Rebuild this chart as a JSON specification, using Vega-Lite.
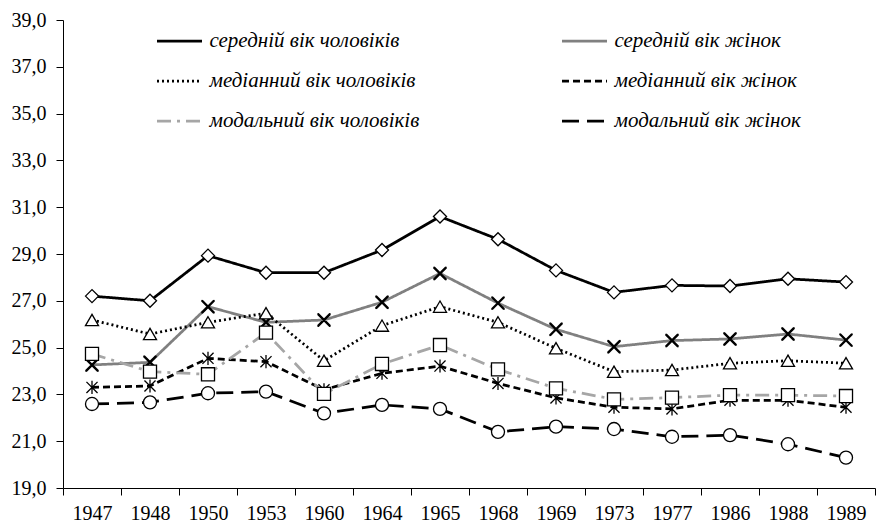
{
  "$schema": "https://vega.github.io/schema/vega-lite/v6.json",
  "width": 812,
  "height": 468,
  "autosize": {"type": "none"},
  "padding": {"left": 63, "top": 20, "right": 1, "bottom": 35},
  "background": "white",
  "config": {
    "view": {"stroke": null},
    "font": "Liberation Serif",
    "axis": {"labelFont": "Liberation Serif", "labelColor": "black", "domainColor": "black", "tickColor": "black", "grid": false, "title": null}
  },
  "data": {"values": [
    {"year": "1947", "series": "середній вік чоловіків", "value": 27.2},
    {"year": "1948", "series": "середній вік чоловіків", "value": 27.0},
    {"year": "1950", "series": "середній вік чоловіків", "value": 28.93},
    {"year": "1953", "series": "середній вік чоловіків", "value": 28.2},
    {"year": "1960", "series": "середній вік чоловіків", "value": 28.2},
    {"year": "1964", "series": "середній вік чоловіків", "value": 29.17},
    {"year": "1965", "series": "середній вік чоловіків", "value": 30.6},
    {"year": "1968", "series": "середній вік чоловіків", "value": 29.63},
    {"year": "1969", "series": "середній вік чоловіків", "value": 28.3},
    {"year": "1973", "series": "середній вік чоловіків", "value": 27.36},
    {"year": "1977", "series": "середній вік чоловіків", "value": 27.66},
    {"year": "1986", "series": "середній вік чоловіків", "value": 27.63},
    {"year": "1988", "series": "середній вік чоловіків", "value": 27.94},
    {"year": "1989", "series": "середній вік чоловіків", "value": 27.8},
    {"year": "1947", "series": "середній вік жінок", "value": 24.26},
    {"year": "1948", "series": "середній вік жінок", "value": 24.37},
    {"year": "1950", "series": "середній вік жінок", "value": 26.75},
    {"year": "1953", "series": "середній вік жінок", "value": 26.08},
    {"year": "1960", "series": "середній вік жінок", "value": 26.18},
    {"year": "1964", "series": "середній вік жінок", "value": 26.94},
    {"year": "1965", "series": "середній вік жінок", "value": 28.17},
    {"year": "1968", "series": "середній вік жінок", "value": 26.9},
    {"year": "1969", "series": "середній вік жінок", "value": 25.78},
    {"year": "1973", "series": "середній вік жінок", "value": 25.04},
    {"year": "1977", "series": "середній вік жінок", "value": 25.3},
    {"year": "1986", "series": "середній вік жінок", "value": 25.37},
    {"year": "1988", "series": "середній вік жінок", "value": 25.58},
    {"year": "1989", "series": "середній вік жінок", "value": 25.32},
    {"year": "1947", "series": "медіанний вік чоловіків", "value": 26.18},
    {"year": "1948", "series": "медіанний вік чоловіків", "value": 25.58},
    {"year": "1950", "series": "медіанний вік чоловіків", "value": 26.08},
    {"year": "1953", "series": "медіанний вік чоловіків", "value": 26.47},
    {"year": "1960", "series": "медіанний вік чоловіків", "value": 24.44},
    {"year": "1964", "series": "медіанний вік чоловіків", "value": 25.94},
    {"year": "1965", "series": "медіанний вік чоловіків", "value": 26.75},
    {"year": "1968", "series": "медіанний вік чоловіків", "value": 26.08},
    {"year": "1969", "series": "медіанний вік чоловіків", "value": 24.97},
    {"year": "1973", "series": "медіанний вік чоловіків", "value": 23.97},
    {"year": "1977", "series": "медіанний вік чоловіків", "value": 24.04},
    {"year": "1986", "series": "медіанний вік чоловіків", "value": 24.33},
    {"year": "1988", "series": "медіанний вік чоловіків", "value": 24.44},
    {"year": "1989", "series": "медіанний вік чоловіків", "value": 24.33},
    {"year": "1947", "series": "медіанний вік жінок", "value": 23.3},
    {"year": "1948", "series": "медіанний вік жінок", "value": 23.36},
    {"year": "1950", "series": "медіанний вік жінок", "value": 24.54},
    {"year": "1953", "series": "медіанний вік жінок", "value": 24.4},
    {"year": "1960", "series": "медіанний вік жінок", "value": 23.2},
    {"year": "1964", "series": "медіанний вік жінок", "value": 23.9},
    {"year": "1965", "series": "медіанний вік жінок", "value": 24.21},
    {"year": "1968", "series": "медіанний вік жінок", "value": 23.47},
    {"year": "1969", "series": "медіанний вік жінок", "value": 22.85},
    {"year": "1973", "series": "медіанний вік жінок", "value": 22.45},
    {"year": "1977", "series": "медіанний вік жінок", "value": 22.38},
    {"year": "1986", "series": "медіанний вік жінок", "value": 22.75},
    {"year": "1988", "series": "медіанний вік жінок", "value": 22.75},
    {"year": "1989", "series": "медіанний вік жінок", "value": 22.45},
    {"year": "1947", "series": "модальний вік чоловіків", "value": 24.73},
    {"year": "1948", "series": "модальний вік чоловіків", "value": 23.97},
    {"year": "1950", "series": "модальний вік чоловіків", "value": 23.86},
    {"year": "1953", "series": "модальний вік чоловіків", "value": 25.64},
    {"year": "1960", "series": "модальний вік чоловіків", "value": 23.02},
    {"year": "1964", "series": "модальний вік чоловіків", "value": 24.3},
    {"year": "1965", "series": "модальний вік чоловіків", "value": 25.11},
    {"year": "1968", "series": "модальний вік чоловіків", "value": 24.07},
    {"year": "1969", "series": "модальний вік чоловіків", "value": 23.26},
    {"year": "1973", "series": "модальний вік чоловіків", "value": 22.79},
    {"year": "1977", "series": "модальний вік чоловіків", "value": 22.86},
    {"year": "1986", "series": "модальний вік чоловіків", "value": 22.97},
    {"year": "1988", "series": "модальний вік чоловіків", "value": 22.97},
    {"year": "1989", "series": "модальний вік чоловіків", "value": 22.93},
    {"year": "1947", "series": "модальний вік жінок", "value": 22.59},
    {"year": "1948", "series": "модальний вік жінок", "value": 22.66},
    {"year": "1950", "series": "модальний вік жінок", "value": 23.05},
    {"year": "1953", "series": "модальний вік жінок", "value": 23.12},
    {"year": "1960", "series": "модальний вік жінок", "value": 22.19},
    {"year": "1964", "series": "модальний вік жінок", "value": 22.55},
    {"year": "1965", "series": "модальний вік жінок", "value": 22.38},
    {"year": "1968", "series": "модальний вік жінок", "value": 21.4},
    {"year": "1969", "series": "модальний вік жінок", "value": 21.62},
    {"year": "1973", "series": "модальний вік жінок", "value": 21.52},
    {"year": "1977", "series": "модальний вік жінок", "value": 21.19},
    {"year": "1986", "series": "модальний вік жінок", "value": 21.26},
    {"year": "1988", "series": "модальний вік жінок", "value": 20.87},
    {"year": "1989", "series": "модальний вік жінок", "value": 20.3}
  ]},
  "encoding": {
    "x": {
      "field": "year", "type": "ordinal", "sort": null,
      "scale": {"paddingInner": 0, "paddingOuter": 0},
      "axis": {"labelAngle": 0, "tickBand": "extent", "labelFontSize": 20, "tickSize": 7, "labelPadding": 8, "domainWidth": 1}
    },
    "y": {
      "field": "value", "type": "quantitative",
      "scale": {"domain": [19, 39], "nice": false, "zero": false},
      "axis": {"values": [19, 21, 23, 25, 27, 29, 31, 33, 35, 37, 39], "labelExpr": "replace(format(datum.value, '.1f'), '.', ',')", "labelFontSize": 20, "tickSize": 7, "labelPadding": 10}
    }
  },
  "layer": [
    {
      "mark": {"type": "line", "strokeWidth": 2.75},
      "encoding": {
        "stroke": {
          "field": "series", "type": "nominal",
          "scale": {
            "domain": ["середній вік чоловіків", "середній вік жінок", "медіанний вік чоловіків", "медіанний вік жінок", "модальний вік чоловіків", "модальний вік жінок"],
            "range": ["#000000", "#808080", "#000000", "#000000", "#a6a6a6", "#000000"]
          },
          "legend": {"orient": "none", "legendX": 92.5, "legendY": 11, "columns": 2, "direction": "horizontal", "title": null, "symbolType": "stroke", "symbolSize": 2025, "symbolStrokeWidth": 2.75, "clipHeight": 20, "rowPadding": 19, "columnPadding": 141, "labelFont": "Liberation Serif", "labelFontStyle": "italic", "labelFontSize": 21, "labelColor": "black", "labelLimit": 0, "labelOffset": 6, "padding": 0}
        },
        "strokeDash": {
          "field": "series", "type": "nominal",
          "scale": {
            "domain": ["середній вік чоловіків", "середній вік жінок", "медіанний вік чоловіків", "медіанний вік жінок", "модальний вік чоловіків", "модальний вік жінок"],
            "range": [[1, 0], [1, 0], [2, 3], [7, 4], [14, 6, 3, 6], [17, 8]]
          },
          "legend": {"orient": "none", "legendX": 92.5, "legendY": 11, "columns": 2, "direction": "horizontal", "title": null, "symbolType": "stroke", "symbolSize": 2025, "symbolStrokeWidth": 2.75, "clipHeight": 20, "rowPadding": 19, "columnPadding": 141, "labelFont": "Liberation Serif", "labelFontStyle": "italic", "labelFontSize": 21, "labelColor": "black", "labelLimit": 0, "labelOffset": 6, "padding": 0}
        }
      }
    },
    {
      "transform": [{"calculate": "datum.series", "as": "marker"}],
      "mark": {"type": "point", "filled": false, "fill": "white", "stroke": "black", "strokeWidth": 1.3, "opacity": 1, "fillOpacity": 1, "size": 170},
      "encoding": {
        "shape": {
          "field": "marker", "type": "nominal",
          "sort": ["середній вік чоловіків", "середній вік жінок", "медіанний вік чоловіків", "медіанний вік жінок", "модальний вік чоловіків", "модальний вік жінок"],
          "scale": {
            "range": ["diamond", "M-1,-1L1,1M-1,1L1,-1M-0.88,-1L1,0.88M-1,-0.88L0.88,1M-1,0.88L0.88,-1M-0.88,1L1,-0.88", "triangle-up", "M0,-1V1M-0.85,-0.85L0.85,0.85M-0.85,0.85L0.85,-0.85", "square", "circle"]
          },
          "legend": null
        }
      }
    }
  ]
}
